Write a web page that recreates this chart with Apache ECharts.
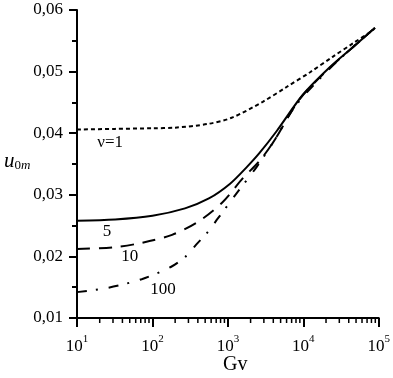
<!DOCTYPE html>
<html><head><meta charset="utf-8">
<script src="https://cdn.jsdelivr.net/npm/echarts@6/dist/echarts.min.js"></script>
<style>html,body{margin:0;padding:0;background:#fff}#c{width:393px;height:378px}</style>
</head><body><div id="c"></div>
<script>
// Gv values (x) and u0m values (y) for each ν
const gv1 = [10, 32, 100, 200, 540, 1120, 2900, 6000, 12300, 24500, 45700, 83000, 89000];
const u1  = [0.0406, 0.0407, 0.0408, 0.0409, 0.0415, 0.0425, 0.0451, 0.0475, 0.0499, 0.0524, 0.0546, 0.0567, 0.0571];

const gv5 = [10, 32, 100, 270, 560, 1070, 1780, 2630, 4470, 9800, 22400, 45700, 89000];
const u5  = [0.0258, 0.0260, 0.0266, 0.0278, 0.0294, 0.0318, 0.0345, 0.0368, 0.0404, 0.0462, 0.0507, 0.0540, 0.0571];

const gv10 = [10, 32, 72, 182, 400, 850, 1580, 2630, 4170, 8900, 22400, 45700, 89000];
const u10  = [0.0212, 0.0215, 0.0222, 0.0235, 0.0256, 0.0288, 0.0327, 0.0355, 0.0389, 0.0455, 0.0506, 0.0540, 0.0571];

const gv100 = [10, 25.7, 72, 182, 288, 380, 537, 741, 1318, 2400, 4170, 7940, 22400, 45700, 89000];
const u100  = [0.0142, 0.0149, 0.0163, 0.0184, 0.0202, 0.0219, 0.0239, 0.0262, 0.0303, 0.0345, 0.0389, 0.0445, 0.0505, 0.0540, 0.0571];

const minorTicksX = [20,30,40,50,60,70,80,90,200,300,400,500,600,700,800,900,2000,3000,4000,5000,6000,7000,8000,9000,20000,30000,40000,50000,60000,70000,80000,90000];

// label anchors [Gv, u]
const labelNu1 = [27.5, 0.0385];
const label5 = [25, 0.0240];
const label10 = [50, 0.0199];
const label100 = [138, 0.01455];

const FONT = 'Liberation Serif';
const zip = (a, b) => a.map((v, i) => [v, b[i]]);

function lbl(coord, text) {
  return {
    symbol: 'circle', symbolSize: 0, silent: true,
    label: {show: true, position: 'inside', formatter: text, color: '#000', fontFamily: FONT, fontSize: 17},
    data: [{coord: coord}]
  };
}

const chart = echarts.init(document.getElementById('c'), null, {renderer: 'canvas'});
chart.setOption({
  animation: false,
  backgroundColor: '#fff',
  grid: {left: 77, right: 14, top: 10, bottom: 60},
  xAxis: {
    type: 'log', logBase: 10, min: 10, max: 100000,
    axisLine: {lineStyle: {color: '#000', width: 2}},
    axisTick: {show: true, length: 9, lineStyle: {color: '#000', width: 2}},
    splitLine: {show: false},
    axisLabel: {
      margin: 16, color: '#000', fontFamily: FONT,
      formatter: v => '{b|10}{s|' + Math.round(Math.log10(v)) + '}',
      rich: {
        b: {fontFamily: FONT, fontSize: 17, color: '#000', lineHeight: 21, verticalAlign: 'bottom'},
        s: {fontFamily: FONT, fontSize: 11, color: '#000', lineHeight: 21, verticalAlign: 'top'}
      }
    }
  },
  yAxis: {
    type: 'value', min: 0.01, max: 0.06, interval: 0.01,
    axisLine: {show: true, lineStyle: {color: '#000', width: 2}},
    axisTick: {show: true, length: 8, lineStyle: {color: '#000', width: 2}},
    minorTick: {show: true, splitNumber: 2, length: 5, lineStyle: {color: '#000', width: 2}},
    splitLine: {show: false},
    axisLabel: {margin: 14, color: '#000', fontFamily: FONT, fontSize: 17,
      formatter: v => v.toFixed(2).replace('.', ',')}
  },
  graphic: [
    {type: 'text', left: 4, top: 151, style: {
      text: '{u|u}{s|0}{m|m}',
      rich: {
        u: {fontFamily: FONT, fontStyle: 'italic', fontSize: 21, fill: '#000', lineHeight: 26, verticalAlign: 'bottom'},
        s: {fontFamily: FONT, fontSize: 13, fill: '#000', lineHeight: 20, verticalAlign: 'bottom'},
        m: {fontFamily: FONT, fontStyle: 'italic', fontSize: 13, fill: '#000', lineHeight: 20, verticalAlign: 'bottom'}
      }}},
    {type: 'text', left: 223, top: 355, style: {text: 'Gv', font: '20px "Liberation Serif"', fill: '#000'}}
  ],
  series: [
    {type: 'line', data: zip(gv1, u1), smooth: 0.3, symbol: 'none',
     lineStyle: {color: '#000', width: 2, type: [4, 3]}, markPoint: lbl(labelNu1, 'ν=1')},
    {type: 'line', data: zip(gv5, u5), smooth: 0.3, symbol: 'none',
     lineStyle: {color: '#000', width: 2, type: 'solid'}, markPoint: lbl(label5, '5')},
    {type: 'line', data: zip(gv10, u10), smooth: 0.3, symbol: 'none',
     lineStyle: {color: '#000', width: 2, type: [13, 9]}, markPoint: lbl(label10, '10')},
    {type: 'line', data: zip(gv100, u100), smooth: 0.3, symbol: 'none',
     lineStyle: {color: '#000', width: 2, type: [10, 9, 2, 11]}, markPoint: lbl(label100, '100')},
    {type: 'custom', silent: true, clip: false,
     data: minorTicksX.map(v => [v, 0.01]),
     renderItem: (params, api) => {
       const p = api.coord([api.value(0), api.value(1)]);
       return {type: 'line', shape: {x1: p[0], y1: p[1], x2: p[0], y2: p[1] + 5},
               style: {stroke: '#000', lineWidth: 1.5}};
     }}
  ]
});
</script></body></html>
